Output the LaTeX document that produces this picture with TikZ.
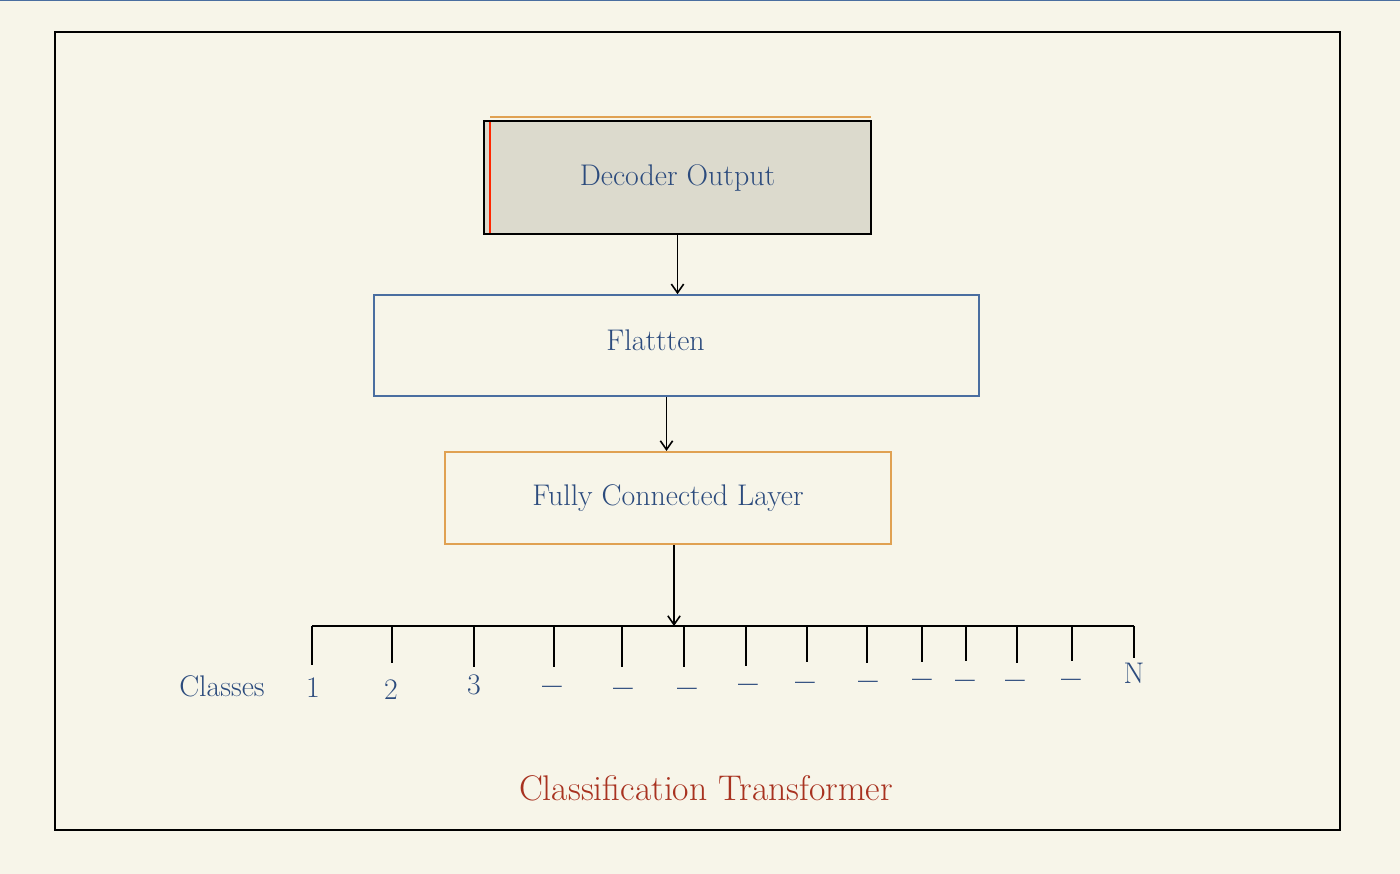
\documentclass[tikz,border=0pt]{standalone}
\usepackage{tikz}
\usepackage{xcolor}
\usetikzlibrary{arrows.meta}
\definecolor{paper}{HTML}{F7F5E9}
\definecolor{inkblue}{HTML}{2C4B7D}
\definecolor{boxblue}{HTML}{4A6EA0}
\definecolor{boxorange}{HTML}{E0A152}
\definecolor{boxgrey}{HTML}{DCDACD}
\definecolor{titlered}{HTML}{A83220}
\tikzset{
    layer-box/.style = {rectangle, draw, line width=0.9pt, inner sep=0pt, text=inkblue, font=\fontsize{17}{20}\selectfont},
    class-label/.style = {text=inkblue, font=\fontsize{17}{20}\selectfont, inner sep=1pt},
    class-dash/.style = {text=inkblue, font=\fontsize{20}{24}\selectfont\bfseries, inner sep=1pt},
    flow-arrow/.style = {-{Straight Barb[length=5pt,width=7pt]}, line width=0.9pt},
    tick-line/.style = {line width=0.9pt},
}

\begin{document}
\begin{tikzpicture}[x=0.02cm, y=-0.02cm]
\fill[paper] (0,0) rectangle (1400,874);
\useasboundingbox (0,0) rectangle (1400,874);
\draw[boxblue, line width=0.6pt] (0,0.5) -- (1400,0.5);
\draw[line width=1.2pt] (55,32) rectangle (1340,830);

% layers
\node [layer-box, fill=boxgrey, minimum width=7.74cm, minimum height=2.26cm] (dec) at (677.5,177.5) {Decoder Output};
\draw[boxorange, line width=0.9pt] (490,117) -- (871,117);
\draw[red!70!orange, line width=0.6pt] (490,122) -- (490,233);
\node [layer-box, draw=boxblue, minimum width=12.1cm, minimum height=2.02cm,
       label={[class-label, xshift=-0.42cm, yshift=0.1cm]center:Flattten}] (flat) at (676.5,345.5) {};
\node [layer-box, draw=boxorange, line width=1.2pt, minimum width=8.92cm, minimum height=1.84cm] (fc) at (668,498) {Fully Connected Layer};

\coordinate (bar-l) at (312,626);
\coordinate (bar-r) at (1134,626);
\draw[flow-arrow] (dec.south) -- (dec.south |- flat.north);
\draw[flow-arrow] ([xshift=-0.2cm]flat.south) -- ([xshift=-0.2cm]flat.south |- fc.north);
\draw[flow-arrow] ([xshift=0.12cm]fc.south) -- ([xshift=0.12cm]fc.south |- bar-l);

% classes
\draw[tick-line] (bar-l) -- (bar-r);
\foreach \x/\yb [count=\i] in {312/665, 392/663, 474/667, 554/667, 622/667, 684/667, 746/666, 807/662, 867/663, 922/662, 966/661, 1017/663, 1072/661, 1134/658}
    \draw[tick-line] (\x,626) -- (\x,\yb) coordinate (t\i);
\node [class-label] (classes) at (222,686) {Classes};
\node [class-label] (c1) at (313,688) {1};
\node [class-label] (c2) at (391,690) {2};
\node [class-label] (c3) at (474,685) {3};
\foreach \x/\y [count=\i from 4] in {552/691, 623/693, 687/693, 748/689, 805/687, 868/686, 922/684, 965/685, 1015/685, 1071/684}
    \node [class-dash] (c\i) at (\x,\y) {--};
\node [class-label] (cN) at (1134,673) {N};

\node [text=titlered, font=\fontsize{20.3}{24}\selectfont] (title) at (706,788) {Classification Transformer};
\end{tikzpicture}
\end{document}
